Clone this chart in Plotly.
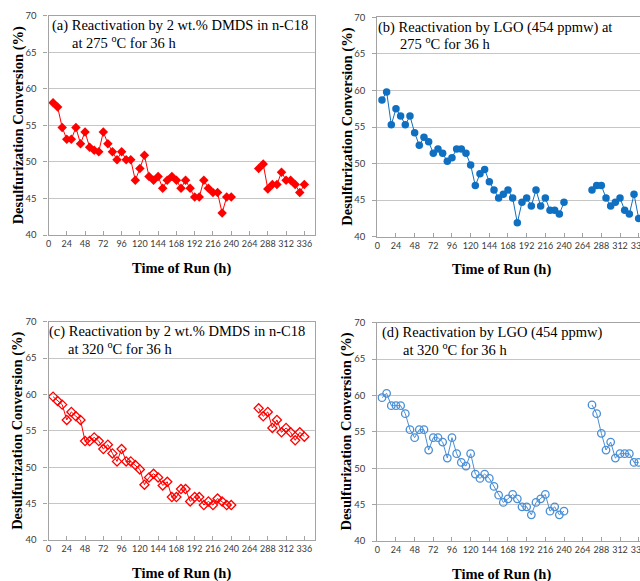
import plotly.graph_objects as go

# ---------------- data ----------------
hours = [6, 12, 18, 24, 30, 36, 42, 48, 54, 60, 66, 72, 78, 84, 90, 96, 102, 108, 114, 120,
         126, 132, 138, 144, 150, 156, 162, 168, 174, 180, 186, 192, 198, 204, 210, 216, 222, 228, 234, 240,
         None,
         276, 282, 288, 294, 300, 306, 312, 318, 324, 330, 336]

conv_a = [58.1, 57.5, 54.7, 53.1, 53.1, 54.7, 52.5, 54.1, 52.0, 51.6, 51.4, 54.1, 52.5, 51.4, 50.3, 51.4, 50.3, 50.3, 47.5, 49.1,
          50.9, 48.0, 47.5, 48.0, 46.4, 47.5, 48.0, 47.5, 46.4, 47.5, 46.4, 45.2, 45.2, 47.5, 46.4, 45.8, 45.8, 43.0, 45.2, 45.2,
          None,
          49.1, 49.7, 46.3, 46.9, 46.9, 48.6, 47.5, 47.5, 46.9, 45.8, 46.9]

conv_b = [58.7, 59.8, 55.3, 57.5, 56.5, 55.3, 56.5, 54.2, 52.5, 53.6, 53.0, 51.4, 52.0, 51.4, 50.3, 50.8, 52.0, 52.0, 51.4, 49.8,
          47.0, 48.6, 49.2, 47.5, 46.4, 45.3, 45.8, 46.4, 45.3, 41.9, 44.7, 45.3, 44.2, 46.4, 44.2, 45.3, 43.6, 43.6, 43.1, 44.7,
          None,
          46.4, 47.0, 47.0, 45.3, 44.2, 44.7, 45.3, 43.6, 43.1, 45.8, 42.5]

conv_c = [59.7, 59.1, 58.6, 56.5, 57.6, 57.0, 56.5, 53.6, 53.6, 54.1, 53.6, 52.5, 53.1, 51.9, 50.8, 52.5, 50.8, 50.8, 50.3, 49.7,
          47.6, 48.6, 49.1, 48.6, 47.5, 48.0, 45.9, 45.9, 47.0, 47.0, 45.3, 45.9, 45.9, 44.8, 45.3, 44.8, 45.7, 45.3, 44.8, 44.8,
          None,
          58.1, 57.0, 57.6, 55.4, 56.5, 54.8, 55.4, 54.8, 53.7, 54.8, 54.2]

conv_d = [59.7, 60.3, 58.6, 58.6, 58.6, 57.5, 55.3, 54.2, 55.3, 55.3, 52.5, 54.2, 54.2, 53.6, 51.4, 54.2, 52.0, 50.8, 50.3, 52.0,
          49.2, 48.6, 49.2, 48.6, 47.5, 46.3, 45.3, 45.8, 46.4, 45.8, 44.7, 44.7, 43.6, 45.3, 45.8, 46.4, 44.1, 44.7, 43.6, 44.1,
          None,
          58.7, 57.5, 54.8, 52.5, 53.6, 51.4, 52.0, 52.0, 52.0, 50.8, 50.8]

panel_line1 = ["(a) Reactivation by 2 wt.% DMDS in n-C18",
               "(b) Reactivation by LGO (454 ppmw) at",
               "(c) Reactivation by 2 wt.% DMDS in n-C18",
               "(d) Reactivation by LGO (454 ppmw)"]
panel_line2 = ["at 275 <sup>o</sup>C for 36 h",
               "275 <sup>o</sup>C for 36 h",
               "at 320 <sup>o</sup>C for 36 h",
               "at 320 <sup>o</sup>C for 36 h"]
y_title = "Desulfurization Conversion (%)"
x_title = "Time of Run (h)"

# ---------------- layout helpers ----------------
W, H = 640, 581
RED = "#ff0000"
BLUE_DARK = "#0f6fc0"
BLUE_LIGHT = "#4a8fd6"
SERIF = "Liberation Serif"
SANS = "Lato"

def px_x(p):
    return p / W

def px_y(p):
    return 1 - p / H

# panel pixel boxes: left, right, top, bottom, xmax
panels = [
    dict(l=48.5, r=315.0, t=15.7, b=235.0, xmax=350),
    dict(l=377.3, r=640.0, t=17.3, b=236.7, xmax=337.7),
    dict(l=48.5, r=315.0, t=321.7, b=540.0, xmax=350),
    dict(l=377.3, r=640.0, t=322.7, b=541.0, xmax=337.7),
]

fig = go.Figure()

series = [
    (conv_a, dict(symbol="diamond", size=7.3, color=RED, line=dict(width=0)), RED),
    (conv_b, dict(symbol="circle", size=7.5, color=BLUE_DARK, line=dict(width=0)), BLUE_DARK),
    (conv_c, dict(symbol="diamond-open", size=7, color=RED, line=dict(width=1.3, color=RED)), RED),
    (conv_d, dict(symbol="circle-open", size=7.5, color=BLUE_LIGHT, line=dict(width=1.3, color=BLUE_LIGHT)), BLUE_LIGHT),
]

annotations = []
line1_x = [50.0, 376.0, 47.0, 379.5]
line2_x = [70.0, 397.5, 65.5, 401.0]

for i, (vals, mk, col) in enumerate(series):
    n = "" if i == 0 else str(i + 1)
    fig.add_trace(go.Scatter(x=hours, y=vals, mode="lines+markers",
                             line=dict(color=col, width=1), marker=mk,
                             xaxis="x" + n, yaxis="y" + n, showlegend=False,
                             connectgaps=False))
    p = panels[i]
    right_panel = i in (1, 3)
    fig.layout["xaxis" + n] = dict(
        domain=[px_x(p["l"]), px_x(p["r"])], anchor="y" + n,
        range=[0, p["xmax"]], tick0=0, dtick=24, showgrid=False, zeroline=False,
        showline=True, linecolor="#a3a3a3", linewidth=1.3, mirror=True,
        ticks="inside", ticklen=4, tickcolor="#a3a3a3", tickangle=0,
        tickfont=dict(family=SANS, size=9, color="#3a3a3a"),
        ticklabeloverflow="allow", automargin=False,
    )
    fig.layout["yaxis" + n] = dict(
        domain=[px_y(p["b"]), px_y(p["t"])], anchor="x" + n,
        range=[40, 70], tick0=40, dtick=5, showgrid=True, gridcolor="#c6c6c6", gridwidth=1,
        zeroline=False, showline=True, linecolor="#a3a3a3", linewidth=1.3,
        mirror=not right_panel,
        ticks="outside", ticklen=4, tickcolor="#a3a3a3", ticklabelstandoff=5,
        tickfont=dict(family=SANS, size=9.5, color="#3a3a3a"),
        automargin=False,
    )
    # panel titles
    annotations.append(dict(xref="paper", yref="paper", x=px_x(line1_x[i]), y=px_y(p["t"] + 10),
                            xanchor="left", yanchor="middle", showarrow=False,
                            text=panel_line1[i], font=dict(family=SERIF, size=14.5, color="#000")))
    annotations.append(dict(xref="paper", yref="paper", x=px_x(line2_x[i]), y=px_y(p["t"] + 26),
                            xanchor="left", yanchor="middle", showarrow=False,
                            text=panel_line2[i], font=dict(family=SERIF, size=14.5, color="#000")))
    # axis titles
    ytx = 18.0 if not right_panel else 346.7
    annotations.append(dict(xref="paper", yref="paper", x=px_x(ytx), y=px_y((p["t"] + p["b"]) / 2),
                            xanchor="center", yanchor="middle", showarrow=False, textangle=-90,
                            text=y_title,
                            font=dict(family=SERIF, size=14.5, color="#000", weight="bold")))
    xtx = 181.0 if not right_panel else 501.0
    annotations.append(dict(xref="paper", yref="paper", x=px_x(xtx), y=px_y(p["b"] + 33),
                            xanchor="center", yanchor="middle", showarrow=False,
                            text=x_title,
                            font=dict(family=SERIF, size=14.5, color="#000", weight="bold")))

fig.update_layout(width=W, height=H, margin=dict(l=0, r=0, t=0, b=0),
                  paper_bgcolor="white", plot_bgcolor="white",
                  annotations=annotations)

fig.write_html("out.html")
